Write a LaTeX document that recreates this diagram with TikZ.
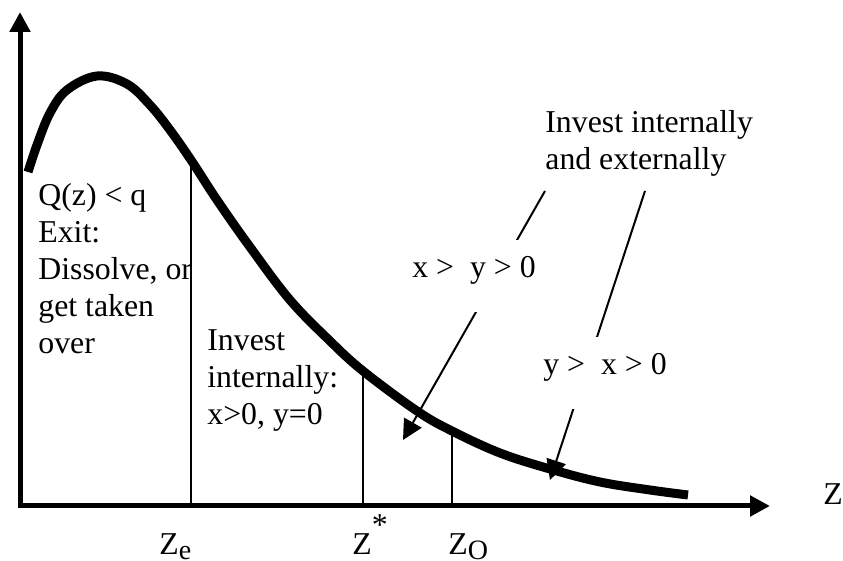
\documentclass[tikz,border=0pt]{standalone}
\usepackage{fontspec}
\setmainfont{Liberation Serif}
\usetikzlibrary{arrows.meta}

\begin{document}
\begin{tikzpicture}[x=5pt, y=5pt, line join=round,
    txt/.style={font=\fontsize{15.9}{18.5}\selectfont, inner sep=0pt, align=left, anchor=base west},
    tag/.style={txt, fill=white, text height=19pt, text depth=17pt, inner xsep=2pt},
    head/.style={-{Triangle[length=10pt, width=10pt]}}]
      \useasboundingbox (-2,-5.5) rectangle (82.3,50.6);
      \coordinate (O) at (0,0);
      \coordinate (Ytop) at (0,49.4);
      \coordinate (Xend) at (75,0);
      \draw[line width=2.5pt, line join=miter, {Triangle[length=10pt, width=10pt]}-{Triangle[length=10pt, width=10pt]}] (Ytop) -- (O) -- (Xend);
      \foreach \c/\x/\y in {ce/17.1/34.6, cs/34.3/13.5, co/43.2/7.5} {
        \coordinate (\c) at (\x,\y);
        \draw[line width=0.65pt] (\x,0) -- (\c);
      }
      \draw[line width=4.5pt, line join=round] plot[smooth, tension=0.6] coordinates {
        (0.8,33.4) (1.7,36.1) (3.0,39.3) (4.7,41.6) (7.7,43.0) (10.7,42.2) (13.0,40.1)
        (15.0,37.6) (ce) (19.7,30.6) (23.0,25.9) (27.0,20.6) (31.0,16.5) (cs)
        (39.7,9.5) (co) (48.0,5.3) (53.0,3.7) (58.0,2.4) (63.0,1.6) (66.8,1.1)};
      \coordinate (s1) at (52.5,31.5);
      \coordinate (t1) at (38.3,6.6);
      \coordinate (s2) at (62.5,31.5);
      \coordinate (t2) at (53.0,2.6);
      \draw[line width=1pt, head] (s1) -- (t1);
      \draw[line width=1pt, head] (s2) -- (t2);
      \node[txt] (exit) at (1.8,15.2) {Q(z) < q\\Exit:\\Dissolve, or\\get taken\\over};
      \node[txt] (inside) at (18.7,8.1) {Invest\\internally:\\x>0, y=0};
      \node[txt] (both) at (52.5,33.6) {Invest internally\\and externally};
      \node[tag] (xy) at (38.8,22.8) {x > \ y > 0};
      \node[tag] (yx) at (51.9,13.1) {y > \ x > 0};
      \node[txt] (zlab) at (80.3,0.1) {Z};
      \node[txt] (ze) at (13.9,-4.9) {Z\raisebox{-2.5pt}{\fontsize{14}{16}\selectfont e}};
      \node[txt] (zs) at (33.2,-4.9) {Z\raisebox{9.5pt}{*}};
      \node[txt] (zo) at (42.8,-4.9) {Z\raisebox{-2.5pt}{\fontsize{14}{16}\selectfont O}};
    \end{tikzpicture}
\end{document}
